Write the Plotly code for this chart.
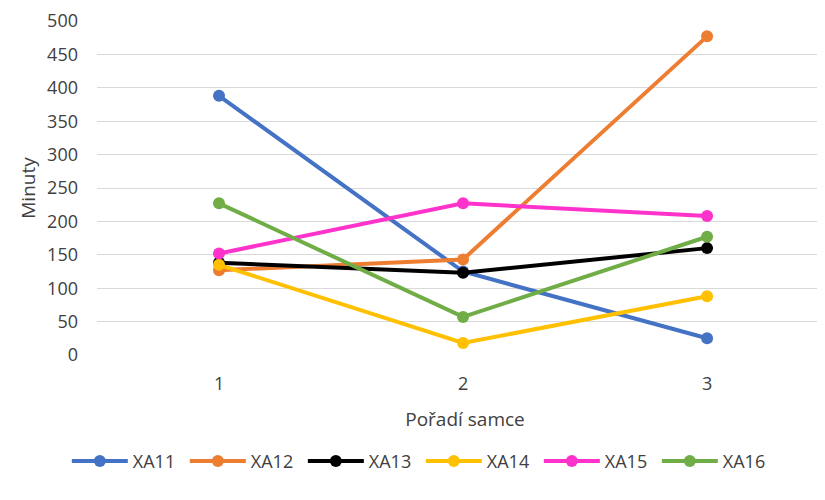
import plotly.graph_objects as go

categories = [1, 2, 3]
tick_labels = ["1", "2", "3"]
series_names = ["XA11", "XA12", "XA13", "XA14", "XA15", "XA16"]
xa11 = [388, 125, 25]
xa12 = [127, 143, 477]
xa13 = [138, 123, 160]
xa14 = [135, 18, 88]
xa15 = [152, 227, 208]
xa16 = [227, 57, 177]
colors = ["#4472C4", "#ED7D31", "#000000", "#FFC000", "#FF33CC", "#70AD47"]

values = [xa11, xa12, xa13, xa14, xa15, xa16]

fig = go.Figure()
for name, vals, col in zip(series_names, values, colors):
    fig.add_trace(go.Scatter(
        x=categories, y=vals, name=name, mode="lines+markers",
        line=dict(color=col, width=4),
        marker=dict(color=col, size=12),
    ))

font_family = "Open Sans, Liberation Sans, sans-serif"
text_col = "#404040"

fig.update_layout(
    width=825, height=500,
    paper_bgcolor="white", plot_bgcolor="white",
    margin=dict(l=89, r=0, t=11, b=153),
    font=dict(family=font_family, size=18, color=text_col),
    showlegend=True,
    legend=dict(orientation="h", x=0.44, xanchor="center", y=-0.318, yanchor="middle",
                font=dict(size=18, color=text_col), itemwidth=56, traceorder="normal",
                entrywidth=47, entrywidthmode="pixels"),
    xaxis=dict(range=[0.5, 3.516], tickmode="array", tickvals=categories, ticktext=tick_labels,
               showgrid=False, zeroline=False, showline=False, ticks="",
               ticklabelstandoff=16,
               tickfont=dict(size=18, color=text_col),
               title=dict(text="Pořadí samce", font=dict(size=19, color=text_col), standoff=18)),
    yaxis=dict(range=[0, 500], tickmode="linear", tick0=0, dtick=50,
               showgrid=True, gridcolor="#D9D9D9", gridwidth=1, zeroline=False, showline=False,
               ticks="", ticklabelstandoff=18, ticklabeloverflow="allow",
               tickfont=dict(size=18, color=text_col),
               title=dict(text="Minuty", font=dict(size=19, color=text_col), standoff=6)),
)

fig.write_html("out.html")
